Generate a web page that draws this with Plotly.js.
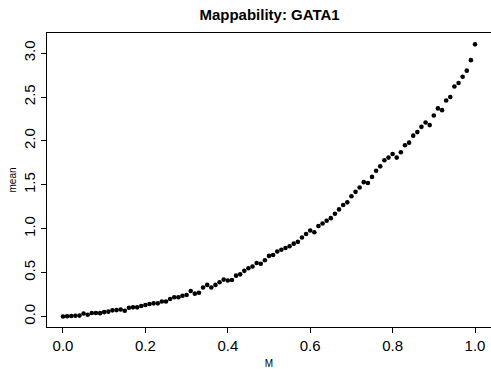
<!DOCTYPE html>
<html>
<head>
<meta charset="utf-8">
<script src="https://cdn.plot.ly/plotly-3.0.1.min.js"></script>
<style>
  html, body { margin: 0; padding: 0; background: #fff; }
  #chart { width: 491px; height: 369px; }
</style>
</head>
<body>
<div id="chart"></div>
<script>
// Mappability M (0 to 1 in steps of 0.01) and the mean value at each M
const mValues = [
  0.00, 0.01, 0.02, 0.03, 0.04, 0.05, 0.06, 0.07, 0.08, 0.09,
  0.10, 0.11, 0.12, 0.13, 0.14, 0.15, 0.16, 0.17, 0.18, 0.19,
  0.20, 0.21, 0.22, 0.23, 0.24, 0.25, 0.26, 0.27, 0.28, 0.29,
  0.30, 0.31, 0.32, 0.33, 0.34, 0.35, 0.36, 0.37, 0.38, 0.39,
  0.40, 0.41, 0.42, 0.43, 0.44, 0.45, 0.46, 0.47, 0.48, 0.49,
  0.50, 0.51, 0.52, 0.53, 0.54, 0.55, 0.56, 0.57, 0.58, 0.59,
  0.60, 0.61, 0.62, 0.63, 0.64, 0.65, 0.66, 0.67, 0.68, 0.69,
  0.70, 0.71, 0.72, 0.73, 0.74, 0.75, 0.76, 0.77, 0.78, 0.79,
  0.80, 0.81, 0.82, 0.83, 0.84, 0.85, 0.86, 0.87, 0.88, 0.89,
  0.90, 0.91, 0.92, 0.93, 0.94, 0.95, 0.96, 0.97, 0.98, 0.99,
  1.00
];
const meanValues = [
  0.000, 0.003, 0.005, 0.008, 0.010, 0.035, 0.020, 0.040, 0.040, 0.038,
  0.050, 0.055, 0.070, 0.073, 0.080, 0.066, 0.100, 0.104, 0.104, 0.120,
  0.131, 0.143, 0.150, 0.150, 0.170, 0.170, 0.200, 0.220, 0.220, 0.237,
  0.245, 0.290, 0.260, 0.270, 0.330, 0.360, 0.330, 0.360, 0.390, 0.420,
  0.410, 0.415, 0.465, 0.480, 0.520, 0.550, 0.570, 0.610, 0.600, 0.640,
  0.690, 0.700, 0.740, 0.760, 0.780, 0.800, 0.830, 0.850, 0.900, 0.940,
  0.980, 0.960, 1.030, 1.060, 1.090, 1.120, 1.170, 1.220, 1.270, 1.300,
  1.370, 1.420, 1.470, 1.530, 1.520, 1.590, 1.660, 1.710, 1.780, 1.810,
  1.850, 1.810, 1.870, 1.950, 1.980, 2.060, 2.100, 2.160, 2.210, 2.180,
  2.290, 2.370, 2.350, 2.460, 2.500, 2.620, 2.660, 2.730, 2.800, 2.920,
  3.100
];

const xTicks = [0, 0.2, 0.4, 0.6, 0.8, 1.0];
const xTickText = ['0.0', '0.2', '0.4', '0.6', '0.8', '1.0'];
const yTicks = [0, 0.5, 1.0, 1.5, 2.0, 2.5, 3.0];
const yTickText = ['0.0', '0.5', '1.0', '1.5', '2.0', '2.5', '3.0'];

const font = 'Liberation Sans, Arial, Helvetica, sans-serif';

const trace = {
  type: 'scatter',
  mode: 'markers',
  x: mValues,
  y: meanValues,
  marker: { color: '#000', size: 4.6, line: { width: 0 } },
  hoverinfo: 'x+y'
};

const layout = {
  width: 491,
  height: 369,
  margin: { l: 47, r: 0, t: 33, b: 42, pad: 0 },
  paper_bgcolor: '#fff',
  plot_bgcolor: '#fff',
  showlegend: false,
  font: { family: font, color: '#000', size: 15 },
  title: {
    text: '<b>Mappability: GATA1</b>',
    font: { family: font, size: 15, color: '#000' },
    xref: 'container', yref: 'container',
    x: 0.549, xanchor: 'center',
    y: 0.959, yanchor: 'middle'
  },
  xaxis: {
    range: [-0.0388, 1.0388],
    tickmode: 'array',
    tickvals: xTicks,
    ticktext: xTickText,
    ticks: 'outside',
    ticklen: 5,
    tickwidth: 1,
    tickcolor: '#000',
    tickfont: { family: font, size: 15, color: '#000' },
    showgrid: false,
    zeroline: false,
    showline: true,
    mirror: true,
    linecolor: '#000',
    linewidth: 1,
    automargin: false,
    title: { text: 'M', font: { family: font, size: 10, color: '#000' }, standoff: 8 }
  },
  yaxis: {
    range: [-0.1196, 3.229],
    tickmode: 'array',
    tickvals: yTicks,
    ticktext: yTickText,
    tickangle: -90,
    ticks: 'outside',
    ticklen: 5,
    tickwidth: 1,
    tickcolor: '#000',
    tickfont: { family: font, size: 15, color: '#000' },
    showgrid: false,
    zeroline: false,
    showline: true,
    mirror: true,
    linecolor: '#000',
    linewidth: 1,
    automargin: false,
    title: { text: 'mean', font: { family: font, size: 10, color: '#000' }, standoff: 2 }
  }
};

Plotly.newPlot('chart', [trace], layout, { displayModeBar: false, staticPlot: true });
</script>
</body>
</html>
